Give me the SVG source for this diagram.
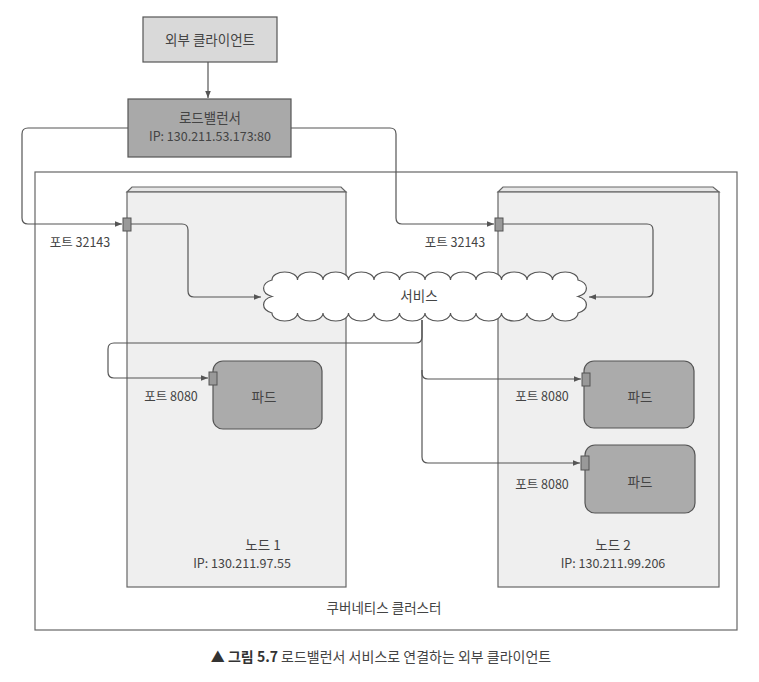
<svg xmlns="http://www.w3.org/2000/svg" width="759" height="682" viewBox="0 0 759 682">
<defs>
<marker id="arr" viewBox="0 0 10 10" refX="10" refY="5" markerWidth="7" markerHeight="7" markerUnits="userSpaceOnUse" orient="auto">
<path d="M0,1 L10,5 L0,9 z" fill="#555"/>
</marker>
<style>
text{font-family:"Noto Sans CJK KR","Noto Sans",sans-serif;fill:#444;font-size:12.5px;text-anchor:middle}
.k{font-size:13.5px}
.box{stroke:#555;stroke-width:1.2}
.node{fill:#efefef;stroke:#666;stroke-width:1.2}
.pod{fill:#ababab;stroke:#555;stroke-width:1.2}
.port{fill:#999;stroke:#555;stroke-width:1}
.conn{fill:none;stroke:#555;stroke-width:1.2}
</style>
</defs>
<rect width="759" height="682" fill="#fff"/>

<g id="cluster">
<rect x="35" y="172" width="702" height="458" fill="#fff" stroke="#666" stroke-width="1.2"/>
<text class="k" x="384" y="613">쿠버네티스 클러스터</text>
</g>

<g id="node1">
<path d="M127,192 L132,187 L341,187 L346,192 Z" fill="#e6e6e6" stroke="#666" stroke-width="1.2"/>
<rect class="node" x="127" y="192" width="219" height="395"/>
<text class="k" x="263" y="550">노드 1</text>
<text x="242" y="568">IP: 130.211.97.55</text>
</g>

<g id="node2">
<path d="M498,192 L503,187 L713,187 L719,192 Z" fill="#e6e6e6" stroke="#666" stroke-width="1.2"/>
<rect class="node" x="498" y="192" width="221" height="395"/>
<text class="k" x="613" y="550">노드 2</text>
<text x="613" y="568">IP: 130.211.99.206</text>
</g>

<g id="client">
<rect class="box" x="143" y="17" width="134" height="45" fill="#d9d9d9"/>
<text class="k" x="210" y="45">외부 클라이언트</text>
</g>

<g id="loadbalancer">
<rect class="box" x="128" y="99" width="163" height="58" fill="#a9a9a9"/>
<text class="k" x="210" y="123">로드밸런서</text>
<text x="210" y="141">IP: 130.211.53.173:80</text>
</g>

<g id="service">
<path d="M272,280 a12.75 8 0 0 1 25.5 0 a12.75 8 0 0 1 25.5 0 a12.75 8 0 0 1 25.5 0 a12.75 8 0 0 1 25.5 0 a12.75 8 0 0 1 25.5 0 a12.75 8 0 0 1 25.5 0 a12.75 8 0 0 1 25.5 0 a12.75 8 0 0 1 25.5 0 a12.75 8 0 0 1 25.5 0 a12.75 8 0 0 1 25.5 0 a12.75 8 0 0 1 25.5 0 a12.75 8 0 0 1 25.5 0 a14 9 0 0 1 0 16.5 a14 9 0 0 1 0 16.5 a12.75 8 0 0 1 -25.5 0 a12.75 8 0 0 1 -25.5 0 a12.75 8 0 0 1 -25.5 0 a12.75 8 0 0 1 -25.5 0 a12.75 8 0 0 1 -25.5 0 a12.75 8 0 0 1 -25.5 0 a12.75 8 0 0 1 -25.5 0 a12.75 8 0 0 1 -25.5 0 a12.75 8 0 0 1 -25.5 0 a12.75 8 0 0 1 -25.5 0 a12.75 8 0 0 1 -25.5 0 a12.75 8 0 0 1 -25.5 0 a14 9 0 0 1 0 -16.5 a14 9 0 0 1 0 -16.5 Z" fill="#fff" stroke="#555" stroke-width="1.2"/>
<text class="k" x="419" y="301">서비스</text>
</g>

<g id="pod1">
<rect class="pod" x="213" y="361" width="109" height="68" rx="10"/>
<text class="k" x="264" y="402">파드</text>
</g>
<g id="pod2">
<rect class="pod" x="584" y="361" width="110" height="67" rx="10"/>
<text class="k" x="640" y="402">파드</text>
</g>
<g id="pod3">
<rect class="pod" x="585" y="445" width="110" height="68" rx="10"/>
<text class="k" x="640" y="487">파드</text>
</g>

<g id="ports">
<rect class="port" x="123" y="218" width="8" height="13"/>
<text x="80" y="247">포트 32143</text>
<rect class="port" x="495" y="218" width="8" height="13"/>
<text x="455" y="247">포트 32143</text>
<rect class="port" x="209" y="372" width="8" height="13"/>
<text x="171" y="401">포트 8080</text>
<rect class="port" x="582" y="373" width="8" height="13"/>
<text x="542" y="401">포트 8080</text>
<rect class="port" x="581" y="456" width="8" height="14"/>
<text x="542" y="489">포트 8080</text>
</g>

<g id="connectors">
<path class="conn" d="M208,62 V98" marker-end="url(#arr)"/>
<path class="conn" d="M128,128 H28 Q22,128 22,134 V218 Q22,224 28,224 H122" marker-end="url(#arr)"/>
<path class="conn" d="M291,128 H390 Q396,128 396,134 V218 Q396,224 402,224 H494" marker-end="url(#arr)"/>
<path class="conn" d="M131,224 H182 Q188,224 188,230 V291 Q188,297 194,297 H261" marker-end="url(#arr)"/>
<path class="conn" d="M503,224 H647 Q653,224 653,230 V291 Q653,297 647,297 H589" marker-end="url(#arr)"/>
<path class="conn" d="M422,320 V337 Q422,343 416,343 H114 Q108,343 108,349 V372 Q108,378 114,378 H208" marker-end="url(#arr)"/>
<path class="conn" d="M422,320 V373 Q422,379 428,379 H581" marker-end="url(#arr)"/>
<path class="conn" d="M422,370 V457 Q422,463 428,463 H580" marker-end="url(#arr)"/>
</g>

<g id="caption">
<text x="381" y="662" style="font-size:14px"><tspan font-weight="bold" fill="#333">▲ 그림 5.7</tspan> 로드밸런서 서비스로 연결하는 외부 클라이언트</text>
</g>
</svg>
